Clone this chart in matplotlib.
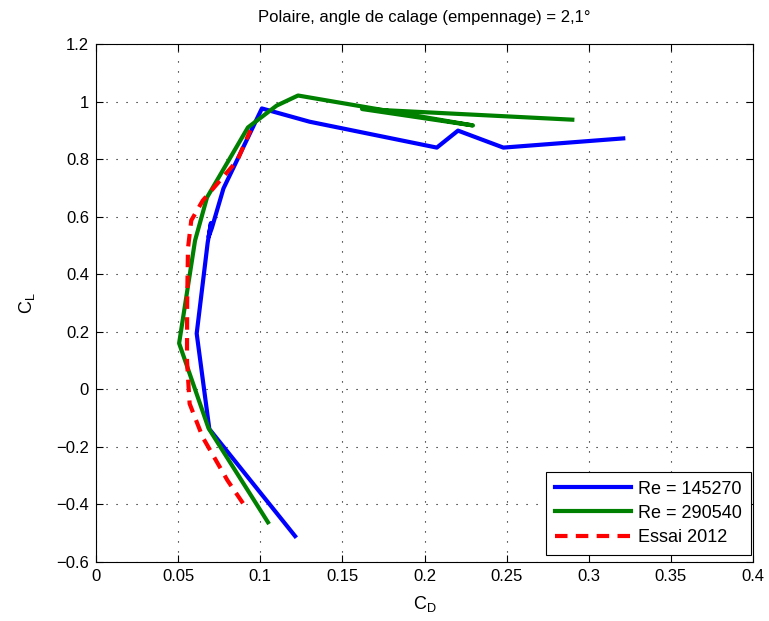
import matplotlib
matplotlib.use("Agg")
import matplotlib.pyplot as plt
from matplotlib.ticker import FuncFormatter

plt.rcParams['font.family'] = ['Liberation Sans', 'DejaVu Sans']
plt.rcParams['axes.unicode_minus'] = True

# Polar curves: drag coefficient (CD) vs lift coefficient (CL)
cd_re1 = [0.1212, 0.0690, 0.0613, 0.0680, 0.0700, 0.0686, 0.0705, 0.0776,
          0.1010, 0.1300, 0.2075, 0.2204, 0.2480, 0.3210]
cl_re1 = [-0.510, -0.138, 0.194, 0.510, 0.578, 0.530, 0.560, 0.698,
          0.976, 0.930, 0.840, 0.899, 0.840, 0.872]

cd_re2 = [0.1047, 0.0685, 0.0506, 0.0603, 0.0676, 0.0925, 0.1100, 0.1230,
          0.2295, 0.1620, 0.2900]
cl_re2 = [-0.462, -0.135, 0.160, 0.517, 0.667, 0.910, 0.986, 1.021,
          0.917, 0.974, 0.937]

cd_exp = [0.0895, 0.0800, 0.0650, 0.0570, 0.0554, 0.0555, 0.0560, 0.0580,
          0.0650, 0.0860, 0.0940]
cl_exp = [-0.396, -0.316, -0.167, -0.050, 0.100, 0.300, 0.490, 0.587,
          0.656, 0.795, 0.900]

labels = ['Re = 145270', 'Re = 290540', 'Essai 2012']

fig = plt.figure(figsize=(7.69, 6.21), dpi=100)
ax = fig.add_axes([96/769, 1 - 562/621, (753-96)/769, (562-44)/621])

ax.plot(cd_re1, cl_re1, color=(0, 0, 1), lw=3, label=labels[0])
ax.plot(cd_re2, cl_re2, color=(0, 0.5, 0), lw=3, label=labels[1])
ax.plot(cd_exp, cl_exp, color=(1, 0, 0), lw=3, ls=(0, (3, 2)), label=labels[2])

ax.set_xlim(0, 0.4)
ax.set_ylim(-0.6, 1.2)
ax.set_xticks([0, 0.05, 0.1, 0.15, 0.2, 0.25, 0.3, 0.35, 0.4])
ax.set_yticks([-0.6, -0.4, -0.2, 0, 0.2, 0.4, 0.6, 0.8, 1.0, 1.2])

def fmt(v, pos):
    s = ('%.2f' % v).rstrip('0').rstrip('.')
    if s in ('-0', ''):
        s = '0'
    return s.replace('-', '\u2212')

ax.xaxis.set_major_formatter(FuncFormatter(fmt))
ax.yaxis.set_major_formatter(FuncFormatter(fmt))

ax.grid(True, color='black', ls=(0, (1, 8)), lw=0.8)
ax.tick_params(direction='in', top=True, right=True, labelsize=12, length=5,
               width=0.8, pad=5)
for s in ax.spines.values():
    s.set_linewidth(0.8)

ax.set_xlabel('C$_\\mathregular{D}$', fontsize=13, labelpad=7)
ax.set_ylabel('C$_\\mathregular{L}$', fontsize=13, labelpad=14)
ax.set_title('Polaire, angle de calage (empennage) = 2,1°', fontsize=12, pad=16)

leg = ax.legend(loc='lower right', fontsize=13, fancybox=False, framealpha=1,
                edgecolor='black', handlelength=4.2, borderaxespad=0.1,
                labelspacing=0.4, handletextpad=0.4, borderpad=0.5,
                bbox_to_anchor=(1.0, 0.01))
leg.get_frame().set_linewidth(0.8)

fig.savefig('out.png', dpi=100)
